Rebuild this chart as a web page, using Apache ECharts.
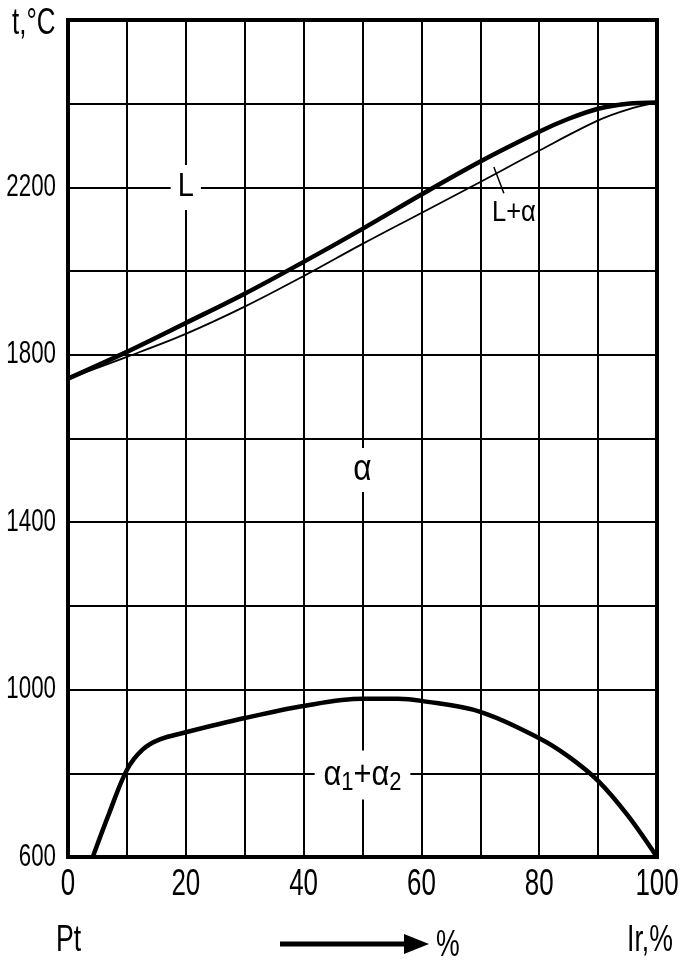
<!DOCTYPE html>
<html>
<head>
<meta charset="utf-8">
<script src="https://cdn.jsdelivr.net/npm/echarts@6/dist/echarts.min.js"></script>
<style>
html,body{margin:0;padding:0;background:#fff;}
#chart{width:686px;height:965px;}
</style>
</head>
<body>
<div id="chart"></div>
<script>
// Liquidus (thick) line: composition (% Ir) vs temperature (°C)
const liquidusX = [0, 10, 20, 30, 40, 50, 60, 70, 80, 85, 90, 95, 100];
const liquidusT = [1743, 1807, 1876, 1946, 2022, 2101, 2183, 2262, 2333, 2364, 2388, 2400, 2403];
// Solidus (thin) line
const solidusX = [0, 10, 20, 30, 40, 50, 60, 70, 80, 90, 95, 100];
const solidusT = [1743, 1795, 1850, 1915, 1988, 2065, 2139, 2213, 2288, 2360, 2386, 2403];
// Miscibility gap (alpha1 + alpha2)
const gapX = [4.2, 7, 10, 12.7, 15.6, 20, 30, 40, 50, 56, 60, 70, 80, 85, 90, 95, 100];
const gapT = [600, 705, 808, 857, 881, 898, 932, 961, 978, 978, 973, 947, 884, 840, 782, 700, 600];
// Leader line for "L+α"
const leaderX = [72.3, 74.0];
const leaderT = [2249, 2186];
// Region labels
const labelX = [20, 50, 50, 75.7];
const labelT = [2200, 1525, 796, 2139];
const labelText = ['L', 'α', '{a|α}{s|1}{a|+α}{s|2}', 'L+α'];
// Axis tick labels
const xTickLabels = [0, 20, 40, 60, 80, 100];
const yTickLabels = [600, 1000, 1400, 1800, 2200];

const FONT = '"Liberation Sans", Arial, sans-serif';
const SQ = 0.72; // horizontal squeeze to mimic the condensed lettering

const pair = (xs, ys) => xs.map((x, i) => [x, ys[i]]);

const chart = echarts.init(document.getElementById('chart'), null, {renderer: 'canvas'});
chart.setOption({
  backgroundColor: '#fff',
  animation: false,
  grid: {left: 68, right: 29, top: 20, bottom: 108, show: true, borderColor: '#000', borderWidth: 4, backgroundColor: 'transparent'},
  xAxis: {
    type: 'value', min: 0, max: 100, interval: 10,
    axisLine: {show: false}, axisTick: {show: false}, axisLabel: {show: false},
    splitLine: {show: true, lineStyle: {color: '#000', width: 2}}
  },
  yAxis: {
    type: 'value', min: 600, max: 2600, interval: 200,
    axisLine: {show: false}, axisTick: {show: false}, axisLabel: {show: false},
    splitLine: {show: true, lineStyle: {color: '#000', width: 2.2}}
  },
  series: [
    {type: 'line', data: pair(liquidusX, liquidusT), smooth: 0.35, showSymbol: false, symbol: 'none',
     lineStyle: {color: '#000', width: 4.5}, z: 5},
    {type: 'line', data: pair(solidusX, solidusT), smooth: 0.35, showSymbol: false, symbol: 'none',
     lineStyle: {color: '#000', width: 1.8}, z: 5},
    {type: 'line', data: pair(gapX, gapT), smooth: 0.35, showSymbol: false, symbol: 'none',
     lineStyle: {color: '#000', width: 4.5}, z: 5},
    {type: 'line', data: pair(leaderX, leaderT), showSymbol: false, symbol: 'none',
     lineStyle: {color: '#000', width: 1.5}, z: 5}
  ]
});

const px = (x, y) => chart.convertToPixel({gridIndex: 0}, [x, y]);
const txt = (x, y, text, size, align, extra, sq) => Object.assign({
  type: 'text', x: x, y: y, scaleX: sq || SQ, z: 3,
  style: Object.assign({text: text, x: 0, y: 0, font: size + 'px ' + FONT, fill: '#000',
    align: align || 'center', verticalAlign: 'middle'}, extra || {})
});

const g = [];
// x tick labels
xTickLabels.forEach(v => { const p = px(v, 600); g.push(txt(p[0], p[1] + 28, String(v), 36, 'center')); });
// y tick labels
yTickLabels.forEach(v => { const p = px(0, v); g.push(txt(p[0] - 12, p[1], String(v), 31, 'right')); });
// region labels
const sizes = [33, 36, 35, 29];
labelText.forEach((t, i) => {
  const p = px(labelX[i], labelT[i]);
  const s = sizes[i];
  g.push(txt(p[0], p[1], t, s, 'center', {
    backgroundColor: i === 3 ? 'transparent' : '#fff', padding: i === 0 ? [6, 8] : [4, 10],
    rich: {
      a: {font: s + 'px ' + FONT, fill: '#000'},
      s: {font: Math.round(s * 0.7) + 'px ' + FONT, fill: '#000', verticalAlign: 'bottom', padding: [16, 0, 0, 0]}
    }
  }, 0.88));
});
// titles / axis names
g.push(txt(12, 24, 't,°C', 36, 'left'));
g.push(txt(56, 941, 'Pt', 37, 'left'));
g.push(txt(436, 946, '%', 37, 'left'));
g.push(txt(627, 941, 'Ir,%', 37, 'left'));
// arrow
g.push({type: 'line', shape: {x1: 280, y1: 944, x2: 408, y2: 944}, style: {stroke: '#000', lineWidth: 5}});
g.push({type: 'polygon', shape: {points: [[404, 934], [429, 944], [404, 954]]}, style: {fill: '#000'}});

chart.setOption({graphic: g});
</script>
</body>
</html>
